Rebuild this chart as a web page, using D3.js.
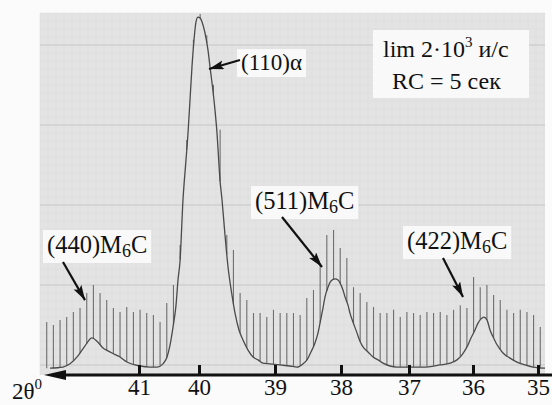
<!DOCTYPE html>
<html><head><meta charset="utf-8">
<script src="https://cdn.jsdelivr.net/npm/d3@7"></script>
<style>
body{margin:0;background:#fbfbfb;}
svg{display:block;}
text{font-family:"Liberation Serif","Times New Roman",serif;fill:#111;}
</style>
</head><body>
<svg id="c" width="552" height="405"></svg>
<script>
// ---- data ----
const tickValues = [41, 40, 39, 38, 37, 36, 35];
const tickLabels = ["41", "40", "39", "38", "37", "36", "35"];

// recorded trace: 2θ (deg) and intensity (arb. units, 0..100)
const curveTheta = [42.483,42.267,42.15,42.017,41.9,41.783,41.7,41.6,41.517,41.45,
  41.317,41.2,40.983,40.817,40.7,40.6,40.533,40.483,40.433,40.383,
  40.35,40.317,40.267,40.217,40.183,40.15,40.117,40.083,40.05,40.017,
  39.987,39.961,39.921,39.882,39.855,39.803,39.763,39.724,39.697,39.658,
  39.618,39.566,39.526,39.474,39.421,39.355,39.289,39.224,39.158,39.066,
  38.924,38.773,38.667,38.576,38.515,38.455,38.394,38.348,38.318,38.273,
  38.242,38.197,38.152,38.091,38.045,38.015,37.971,37.941,37.897,37.868,
  37.824,37.765,37.721,37.676,37.603,37.529,37.456,37.382,37.279,37.176,
  36.984,36.781,36.516,36.359,36.25,36.172,36.094,36.031,35.969,35.923,
  35.877,35.831,35.785,35.738,35.692,35.646,35.585,35.538,35.431,35.323,
  35.2,35.077,34.892];
const curveInt = [1.9,2.2,3.1,5.3,8.1,10.3,9.4,7.5,6.7,6.1,
  5.0,3.6,2.5,2.2,2.2,3.1,5.0,8.3,13.3,19.4,
  26.4,31.4,48.6,59.7,67.2,76.4,85.6,93.1,98.1,99.4,
  99.2,98.1,95.0,90.3,85.6,76.4,67.2,54.2,48.6,38.9,
  30.0,22.2,17.2,12.5,9.7,6.9,5.0,4.2,3.3,3.1,
  2.8,2.5,2.2,3.1,4.2,6.4,8.9,11.7,14.4,18.6,
  21.7,24.4,26.1,26.7,26.4,25.6,23.6,21.7,19.4,17.2,
  14.7,11.7,9.4,7.8,6.4,5.0,4.2,3.3,2.5,2.2,
  2.2,2.2,2.8,3.3,4.2,5.6,7.8,10.3,12.5,14.4,
  15.6,16.1,15.3,12.5,10.6,8.9,7.2,6.1,4.7,3.6,
  2.8,2.2,1.9];

// counter spikes: position (2θ) and top intensity
const spikeTheta = [42.538,42.427,42.316,42.205,42.094,41.983,41.871,41.760,41.649,41.538,
  41.427,41.316,41.204,41.093,40.982,40.871,40.760,40.649,40.537,40.426,
  40.315,40.204,40.093,39.985,39.898,39.810,39.722,39.634,39.547,39.459,
  39.371,39.283,39.196,39.108,39.020,38.922,38.821,38.720,38.619,38.518,
  38.417,38.316,38.215,38.113,38.012,37.914,37.816,37.718,37.620,37.522,
  37.424,37.325,37.227,37.129,37.031,36.929,36.825,36.720,36.616,36.512,
  36.408,36.304,36.199,36.095,35.991,35.889,35.786,35.683,35.581,35.478,
  35.375,35.273,35.170,35.068,34.965];
const spikeTop = [14.7,13.9,15.3,16.1,17.5,18.6,22.8,25.0,22.8,20.8,
  18.6,17.5,18.9,17.5,18.1,17.2,16.7,14.7,20.0,25.0,
  36.1,65.3,93.1,100.3,94.4,80.6,68.1,38.9,34.7,22.8,
  20.8,17.2,17.2,16.1,18.1,17.2,17.2,17.2,16.7,21.4,
  23.6,30.6,38.9,40.3,35.3,32.5,24.4,22.8,20.3,18.9,
  17.2,17.2,18.1,16.1,17.5,17.2,16.7,17.5,17.2,17.5,
  16.7,18.1,19.4,18.6,27.2,24.4,25.0,22.2,20.8,18.1,
  17.2,18.1,17.5,16.7,13.3];

// peak annotations
const annMain = ["(110)α", "(440)M", "(511)M", "(422)M"];
const annSub  = ["", "6", "6", "6"];
const annEnd  = ["", "C", "C", "C"];
const annTextT = [39.447, 42.533, 39.263, 37.029];
const annTextI = [84.7, 33.9, 46.1, 35.0];
const annTailT = [39.461, 42.267, 38.894, 36.469];
const annTailI = [87.5, 31.4, 43.9, 32.5];
const annTipT  = [39.868, 41.9, 38.288, 36.156];
const annTipI  = [85.0, 20.8, 30.0, 21.7];

const noteLines = ["lim 2·10", "RC = 5 сек"];

// ---- drawing ----
const svg = d3.select("#c");
const x = d3.scaleLinear().domain(tickValues).range([139, 199, 275, 341, 409, 473, 538]);
const y = d3.scaleLinear().domain([0, 100]).range([375, 15]);

// chart paper
const paperX = d3.scaleLinear().domain([0, 63]).range([40, 544]);
const paperY = d3.scaleLinear().domain([0, 44]).range([365, 13]);
svg.append("rect").attr("x", 40).attr("y", 13).attr("width", 505).attr("height", 362).attr("fill", "#e3e3e3");
const grid = svg.append("g");
grid.selectAll("line.v").data(d3.range(0, 64)).join("line")
  .attr("x1", d => paperX(d)).attr("x2", d => paperX(d)).attr("y1", 13).attr("y2", 375)
  .attr("stroke", "#d9d9d9").attr("stroke-width", 0.5);
grid.selectAll("line.h").data(d3.range(0, 45)).join("line")
  .attr("x1", 40).attr("x2", 545).attr("y1", d => paperY(d)).attr("y2", d => paperY(d))
  .attr("stroke", d => d % 10 === 0 ? "#c6c6c6" : "#d9d9d9")
  .attr("stroke-width", d => d % 10 === 0 ? 1 : 0.5);

// curve
const pts = curveTheta.map((t, i) => [x(t), y(curveInt[i])]);
const cxs = pts.map(p => p[0]);
function curveYAt(px) {
  let i = d3.bisectLeft(cxs, px);
  if (i <= 0) return pts[0][1];
  if (i >= pts.length) return pts[pts.length - 1][1];
  const a = pts[i - 1], b = pts[i];
  return a[1] + (b[1] - a[1]) * (px - a[0]) / (b[0] - a[0]);
}

// spikes
svg.append("g").selectAll("line").data(spikeTheta).join("line")
  .attr("x1", d => x(d)).attr("x2", d => x(d))
  .attr("y1", d => curveYAt(x(d)))
  .attr("y2", (d, i) => y(spikeTop[i]))
  .attr("stroke", "#6e6e6e").attr("stroke-width", 1.1);

svg.append("path").datum(pts)
  .attr("d", d3.line().curve(d3.curveMonotoneX))
  .attr("fill", "none").attr("stroke", "#4a4a4a").attr("stroke-width", 1.3);

// axis
const axisY = 375;
const axis = d3.axisBottom(x).tickValues(tickValues)
  .tickFormat((d, i) => tickLabels[i]).tickSize(-10).tickPadding(4);
const ag = svg.append("g").attr("transform", `translate(0,${axisY})`).call(axis);
ag.select(".domain").remove();
ag.selectAll(".tick line").attr("stroke", "#111").attr("stroke-width", 3);
ag.selectAll(".tick text").attr("font-size", 23).attr("fill", "#111")
  .attr("font-family", "'Liberation Serif','Times New Roman',serif");
svg.append("line").attr("x1", 60).attr("x2", 552).attr("y1", axisY).attr("y2", axisY)
  .attr("stroke", "#111").attr("stroke-width", 3);
svg.append("path").attr("d", `M44,${axisY} L66,${axisY - 5} L66,${axisY + 5} Z`).attr("fill", "#111");
const lab = svg.append("text").attr("x", 12).attr("y", 399).attr("font-size", 23);
lab.append("tspan").text("2θ");
lab.append("tspan").attr("font-size", 15).attr("dy", -10).text("0");

// arrow marker
svg.append("defs").append("marker").attr("id", "ah")
  .attr("markerUnits", "userSpaceOnUse").attr("markerWidth", 16).attr("markerHeight", 10)
  .attr("refX", 15).attr("refY", 4.5).attr("orient", "auto")
  .append("path").attr("d", "M0,0 L15,4.5 L0,9 L3,4.5 Z").attr("fill", "#111");

// annotations
annMain.forEach((m, i) => {
  const g = svg.append("g");
  const bg = g.append("rect").attr("fill", "#f9f9f9");
  const fs = annSub[i] ? 24.5 : 23;
  const t = g.append("text").attr("x", x(annTextT[i])).attr("y", y(annTextI[i])).attr("font-size", fs);
  t.append("tspan").text(m);
  if (annSub[i]) {
    t.append("tspan").attr("font-size", 18).attr("dy", 4).text(annSub[i]);
    t.append("tspan").attr("dy", -4).text(annEnd[i]);
  }
  const bb = t.node().getBBox();
  bg.attr("x", bb.x - 4).attr("y", bb.y - 1).attr("width", bb.width + 8).attr("height", bb.height + 3);
  g.append("line")
    .attr("x1", x(annTailT[i])).attr("y1", y(annTailI[i]))
    .attr("x2", x(annTipT[i])).attr("y2", y(annTipI[i]))
    .attr("stroke", "#111").attr("stroke-width", 2.2).attr("marker-end", "url(#ah)");
});

// note box
const ng = svg.append("g");
const nbg = ng.append("rect").attr("fill", "#f9f9f9");
const n1 = ng.append("text").attr("x", 383).attr("y", 57).attr("font-size", 24);
n1.append("tspan").text(noteLines[0]);
n1.append("tspan").attr("font-size", 15).attr("dy", -10).text("3");
n1.append("tspan").attr("dy", 10).text(" и/с");
ng.append("text").attr("x", 392).attr("y", 89).attr("font-size", 24).text(noteLines[1]);
nbg.attr("x", 373).attr("y", 30).attr("width", 156).attr("height", 68);
</script>
</body></html>
